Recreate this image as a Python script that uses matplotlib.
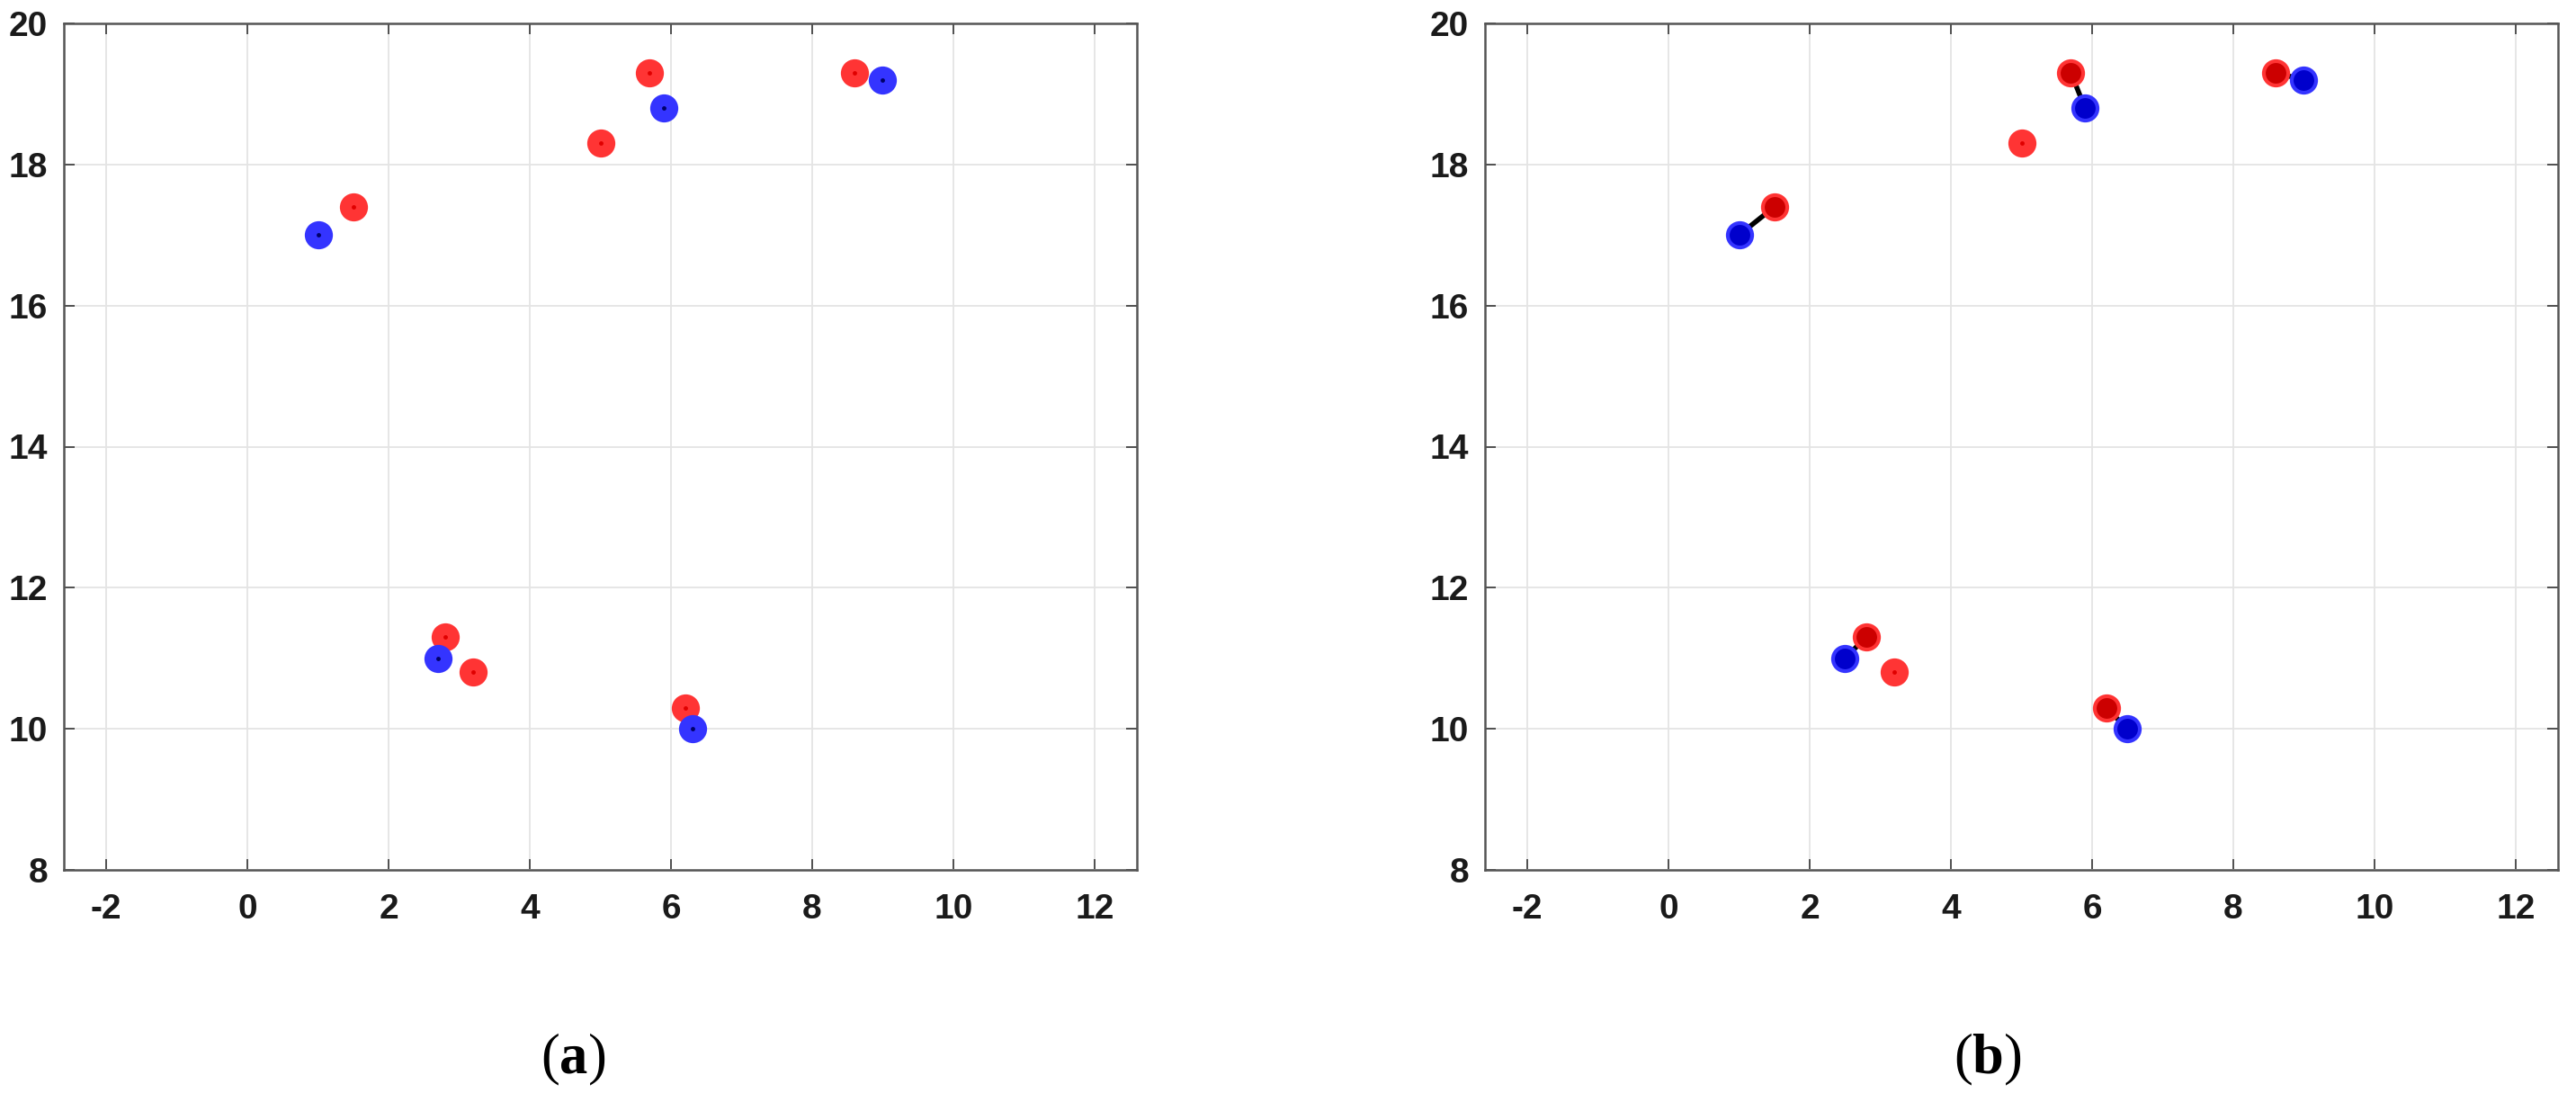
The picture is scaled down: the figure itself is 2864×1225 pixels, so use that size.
import matplotlib
matplotlib.use("Agg")
import matplotlib.pyplot as plt
import numpy as np

plt.rcParams["axes.unicode_minus"] = False

# ---- data ----
red_x = [1.5, 5.0, 5.7, 8.6, 2.8, 3.2, 6.2]
red_y = [17.4, 18.3, 19.3, 19.3, 11.3, 10.8, 10.3]
blue_a_x = [1.0, 5.9, 9.0, 2.7, 6.3]
blue_a_y = [17.0, 18.8, 19.2, 11.0, 10.0]
blue_b_x = [1.0, 5.9, 9.0, 2.5, 6.5]
blue_b_y = [17.0, 18.8, 19.2, 11.0, 10.0]
match_red_idx = [0, 2, 3, 4, 6]   # red point matched to each blue point in (b)
x_ticks = [-2, 0, 2, 4, 6, 8, 10, 12]
y_ticks = [8, 10, 12, 14, 16, 18, 20]
captions = ["a", "b"]

W, H = 2864, 1225
fig = plt.figure(figsize=(W / 100, H / 100), dpi=100)

RED_OUT, RED_IN, RED_DOT = "#ff3434", "#cc0000", "#e00000"
BLUE_OUT, BLUE_IN, BLUE_DOT = "#3434ff", "#0000cc", "#00006a"
MS_OUT, MS_IN, MS_DOT = 22.5, 16.5, 3.5

def style_axes(ax):
    ax.set_xlim(-2.6, 12.6)
    ax.set_ylim(8, 20)
    ax.set_xticks(x_ticks)
    ax.set_yticks(y_ticks)
    ax.grid(True, color="#e4e4e4", linewidth=1.3)
    ax.set_axisbelow(True)
    for s in ax.spines.values():
        s.set_color("#555555")
        s.set_linewidth(1.8)
    ax.tick_params(direction="in", length=8.5, width=1.3, color="#444444",
                   top=True, right=True, labelsize=28, labelcolor="#1a1a1a")
    ax.tick_params(axis="x", pad=19)
    ax.tick_params(axis="y", pad=13)
    for lab in ax.get_xticklabels() + ax.get_yticklabels():
        lab.set_fontfamily("Liberation Sans")
        lab.set_fontweight("bold")

ax_w = 1193 / W
ax_h = 941 / H
ax_b = 1 - 967 / H
axA = fig.add_axes([71 / W, ax_b, ax_w, ax_h])
axB = fig.add_axes([1651 / W, ax_b, ax_w, ax_h])

# ---- panel (a) ----
axA.plot(red_x, red_y, "o", ms=MS_OUT, color=RED_OUT, mew=0, zorder=3)
axA.plot(red_x, red_y, "o", ms=MS_DOT, color=RED_DOT, mew=0, zorder=3.1)
axA.plot(blue_a_x, blue_a_y, "o", ms=MS_OUT, color=BLUE_OUT, mew=0, zorder=4)
axA.plot(blue_a_x, blue_a_y, "o", ms=MS_DOT, color=BLUE_DOT, mew=0, zorder=4.1)
style_axes(axA)

# ---- panel (b) ----
for bi, ri in enumerate(match_red_idx):
    axB.plot([blue_b_x[bi], red_x[ri]], [blue_b_y[bi], red_y[ri]],
             color="black", lw=4, solid_capstyle="butt", zorder=2.5)
unmatched = [i for i in range(len(red_x)) if i not in match_red_idx]
mx = [red_x[i] for i in match_red_idx]
my = [red_y[i] for i in match_red_idx]
ux = [red_x[i] for i in unmatched]
uy = [red_y[i] for i in unmatched]
axB.plot(red_x, red_y, "o", ms=MS_OUT, color=RED_OUT, mew=0, zorder=3)
axB.plot(mx, my, "o", ms=MS_IN, color=RED_IN, mew=0, zorder=3.1)
axB.plot(ux, uy, "o", ms=MS_DOT, color=RED_DOT, mew=0, zorder=3.1)
axB.plot(blue_b_x, blue_b_y, "o", ms=MS_OUT, color=BLUE_OUT, mew=0, zorder=4)
axB.plot(blue_b_x, blue_b_y, "o", ms=MS_IN, color=BLUE_IN, mew=0, zorder=4.1)
style_axes(axB)

# ---- captions ----
plt.rcParams["mathtext.fontset"] = "custom"
plt.rcParams["mathtext.rm"] = "Liberation Serif"
plt.rcParams["mathtext.bf"] = "Liberation Serif:bold"
for cx, c in zip([637, 2210], captions):
    fig.text(cx / W, 1 - 1193 / H, r"$\mathrm{(}\mathbf{%s}\mathrm{)}$" % c,
             ha="center", va="baseline", fontsize=45, color="black")

fig.savefig("out.png", dpi=100)
